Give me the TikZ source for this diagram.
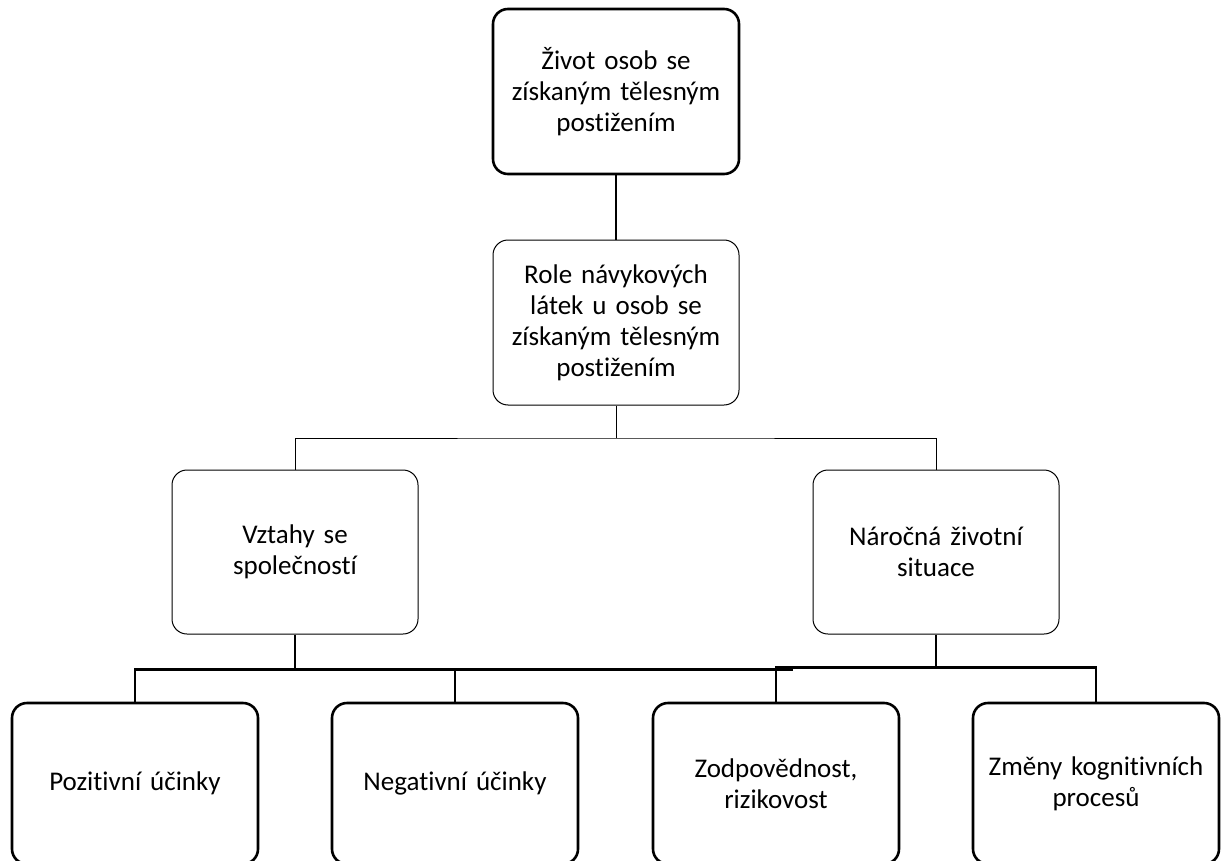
\documentclass[tikz,border=0pt]{standalone}
\usepackage{fontspec}
\setmainfont{Carlito}[Ligatures=NoCommon]
\begin{document}
\begin{tikzpicture}[x=1pt,y=-1pt,
  boxbase/.style={rectangle,rounded corners=15pt,align=center,inner sep=2pt,
    minimum width=246pt,text width=240pt,
    font=\fontsize{27}{31}\selectfont},
  thickbox/.style={boxbase,draw,line width=2.6pt},
  thinbox/.style={boxbase,draw,line width=1pt},
  thickline/.style={line width=2.6pt},
  thinline/.style={line width=1pt}]
\useasboundingbox (0,0) rectangle (1228,861);
\begin{scope}
\clip (0,0) rectangle (1228,861);
\node[thickbox,minimum height=165pt] (top) at (616,91.5) {Život osob se\\získaným tělesným\\postižením};
\node[thinbox,minimum height=165pt] (mid) at (616,322.5) {Role návykových\\látek u osob se\\získaným tělesným\\postižením};
\node[thinbox,minimum height=164pt] (L) at (295,552) {Vztahy se\\společností};
\node[thinbox,minimum height=164pt] (R) at (936,552) {Náročná životní\\situace};
\node[thickbox,minimum height=161pt] (b1) at (135,783.5) {Pozitivní účinky};
\node[thickbox,minimum height=161pt] (b2) at (455,783.5) {Negativní účinky};
\node[thickbox,minimum height=161pt] (b3) at (776,783.5) {Zodpovědnost,\\rizikovost};
\node[thickbox,minimum height=161pt] (b4) at (1096,783.5) {Změny kognitivních\\procesů};

\coordinate (jm) at (616,438);
\coordinate (jl) at (295,669.5);
\coordinate (jr) at (936,667.5);
\coordinate (ext) at (793,669.5);

\draw[thickline] (top.south) -- (mid.north);
\draw[thinline] (mid.south) -- (jm);
\draw[thinline] (L.north) |- (jm) -| (R.north);
\draw[thickline] (L.south) -- (jl);
\draw[thickline] (b1.north) |- (jl) -| (b2.north);
\draw[thickline] (b2.north |- jl) -- (ext);
\draw[thickline] (R.south) -- (jr);
\draw[thickline] (b3.north) |- (jr) -| (b4.north);
\end{scope}
\end{tikzpicture}
\end{document}
